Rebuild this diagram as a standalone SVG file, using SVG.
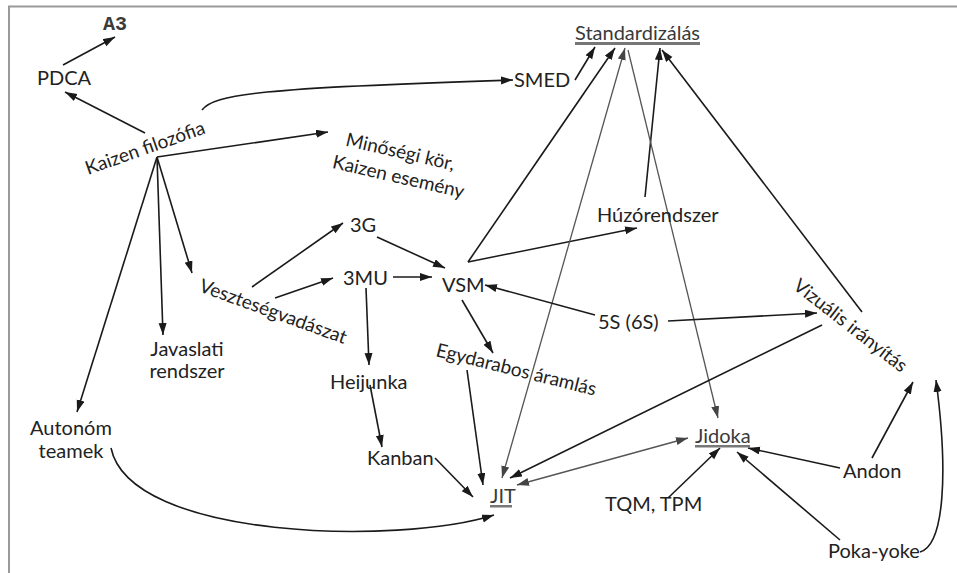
<svg xmlns="http://www.w3.org/2000/svg" width="957" height="573" viewBox="0 0 957 573">
<defs>
<marker id="ah" markerWidth="13" markerHeight="9" refX="12" refY="4" orient="auto-start-reverse" markerUnits="userSpaceOnUse">
<path d="M0,0 L12,4 L0,8 z" fill="#1a1a1a"/>
</marker>
<marker id="ahg" markerWidth="13" markerHeight="9" refX="12" refY="4" orient="auto-start-reverse" markerUnits="userSpaceOnUse">
<path d="M0,0 L12,4 L0,8 z" fill="#444"/>
</marker>
</defs>
<style>
text{font-family:Lato,"Open Sans","Liberation Sans",sans-serif;font-size:20px;fill:#222}
.r{font-size:19px}
.c{text-anchor:middle}
.mono{font-family:"Liberation Mono","Courier New",monospace;font-size:20px;font-weight:bold;fill:#3a3a3a}
.u{fill:#3a3a3a}
.ul{fill:#777}
.e{fill:none;stroke:#1a1a1a;stroke-width:1.6;marker-end:url(#ah)}
.g{fill:none;stroke:#555;stroke-width:1.3;marker-end:url(#ahg)}
.both{marker-start:url(#ahg)}
.frame{fill:none;stroke:#9a9a9a;stroke-width:2}
</style>
<rect width="957" height="573" fill="#fff"/>
<path class="frame" d="M9,573 V6.5 H957"/>

<g id="connectors">
<path class="e" d="M145,133 L65,92"/>
<path class="e" d="M63,65 L115,37"/>
<path class="e" d="M202,110 C214,94 260,88 513,80"/>
<path class="e" d="M157,157 L328,132"/>
<path class="e" d="M157,157 L77,412"/>
<path class="e" d="M157,157 L163,335"/>
<path class="e" d="M157,157 L192,273"/>
<path class="e" d="M252,287 L343,223"/>
<path class="e" d="M275,298 L333,278"/>
<path class="e" d="M377,237 L445,268"/>
<path class="e" d="M393,277 L432,277"/>
<path class="e" d="M366,288 L369,365"/>
<path class="e" d="M370,385 L382,447"/>
<path class="e" d="M435,458 L473,497"/>
<path class="e" d="M462,300 L493,353"/>
<path class="e" d="M467,370 L483,485"/>
<path class="e" d="M468,262 L615,48"/>
<path class="e" d="M468,262 L637,228"/>
<path class="e" d="M645,197 L660,48"/>
<path class="e" d="M575,80 L595,47"/>
<path class="g both" d="M502,478 L625,48"/>
<path class="g" d="M628,50 L718,418"/>
<path class="e" d="M595,315 L485,285"/>
<path class="e" d="M668,321 L817,313"/>
<path class="e" d="M862,312 L662,50"/>
<path class="e" d="M822,325 L510,478"/>
<path class="g both" d="M517,485 L688,438"/>
<path class="e" d="M668,498 L720,448"/>
<path class="e" d="M840,468 L748,448"/>
<path class="e" d="M840,540 L737,452"/>
<path class="e" d="M872,458 L913,382"/>
<path class="e" d="M920,552 C945,545 948,470 936,380"/>
<path class="e" d="M111,448 C130,540 400,545 494,515"/>
</g>

<g id="a3"><text class="mono" x="103" y="30">A3</text></g>
<g id="pdca"><text x="37" y="85">PDCA</text></g>
<g id="kaizen"><text class="r" transform="translate(88,175) rotate(-19.5)">Kaizen filozófia</text></g>
<g id="smed"><text x="514" y="87">SMED</text></g>
<g id="standardizalas"><text class="u" x="575" y="40">Standardizálás</text><rect class="ul" x="575" y="42" width="125" height="3"/></g>
<g id="minosegi">
<text class="r c" transform="translate(399,158) rotate(13)">Minőségi kör,</text>
<text class="r c" transform="translate(397,183) rotate(13)">Kaizen esemény</text>
</g>
<g id="g3g"><text x="350" y="232">3G</text></g>
<g id="g3mu"><text x="343" y="285">3MU</text></g>
<g id="vsm"><text x="442" y="292">VSM</text></g>
<g id="huzo"><text x="597" y="222">Húzórendszer</text></g>
<g id="veszteseg"><text class="r" transform="translate(198,291) rotate(20)">Veszteségvadászat</text></g>
<g id="s5"><text x="598" y="329">5S (6S)</text></g>
<g id="vizualis"><text class="r" transform="translate(792,288) rotate(38)">Vizuális irányítás</text></g>
<g id="javaslati"><text class="c" x="187" y="356">Javaslati</text><text class="c" x="187" y="378">rendszer</text></g>
<g id="egydarabos"><text class="r" transform="translate(435,356) rotate(14)">Egydarabos áramlás</text></g>
<g id="heijunka"><text x="330" y="389">Heijunka</text></g>
<g id="autonom"><text class="c" x="71" y="435">Autonóm</text><text class="c" x="71" y="458">teamek</text></g>
<g id="kanban"><text x="367" y="465">Kanban</text></g>
<g id="jit"><text class="u" x="490" y="503">JIT</text><rect class="ul" x="490" y="505" width="22" height="2.5"/></g>
<g id="jidoka"><text class="u" x="695" y="443">Jidoka</text><rect class="ul" x="695" y="445" width="55" height="2.5"/></g>
<g id="tqm"><text x="605" y="511">TQM, TPM</text></g>
<g id="andon"><text x="843" y="478">Andon</text></g>
<g id="pokayoke"><text x="828" y="558">Poka-yoke</text></g>
</svg>
